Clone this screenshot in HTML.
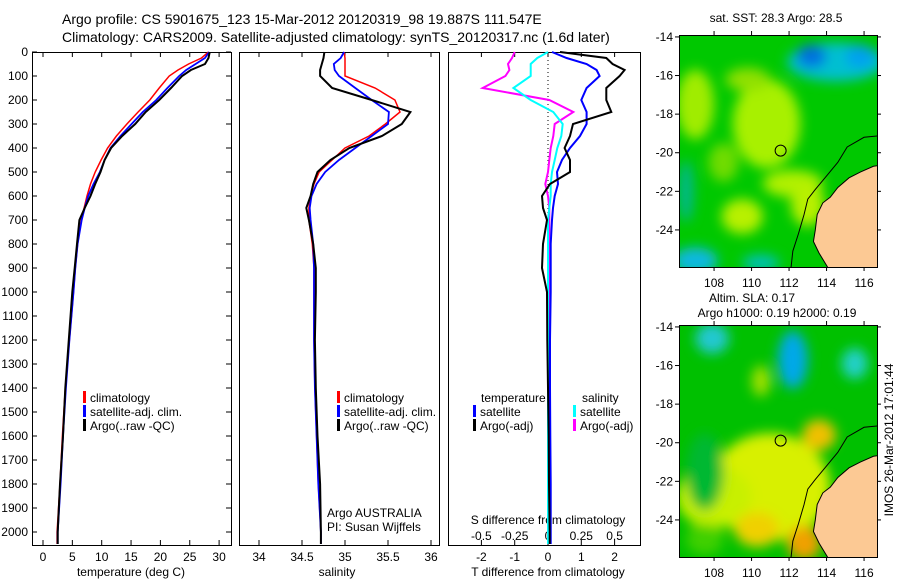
<!DOCTYPE html>
<html><head><meta charset="utf-8"><style>
html,body{margin:0;padding:0;background:#fff;}
svg{display:block;font-family:"Liberation Sans",sans-serif;}
</style></head><body>
<svg id="c" width="900" height="580" viewBox="0 0 900 580" xmlns="http://www.w3.org/2000/svg">
<defs>
<filter id="bl" x="-20%" y="-20%" width="140%" height="140%"><feGaussianBlur stdDeviation="6"/></filter>
<clipPath id="m1c"><rect x="679" y="35" width="198" height="232"/></clipPath>
<clipPath id="m2c"><rect x="679" y="325" width="198" height="232"/></clipPath>
</defs>
<text x="62" y="24" font-size="14">Argo profile: CS 5901675_123 15-Mar-2012 20120319_98 19.887S 111.547E</text>
<text x="62" y="42" font-size="14">Climatology: CARS2009. Satellite-adjusted climatology: synTS_20120317.nc (1.6d later)</text>
<g id="g"></g>
</svg>
<script>
// ---- data ----
const depths = [0,25,50,75,100,150,200,250,300,350,400,450,500,550,600,650,700,800,900,1000,1200,1400,1600,1800,2000,2050];
const tempClim = [28.2,27.0,24.8,23.0,21.5,19.8,18.2,16.2,14.3,12.5,11.0,9.9,8.9,8.1,7.5,7.0,6.5,5.9,5.5,5.2,4.5,3.8,3.3,2.9,2.4,2.4];
const tempSat  = [28.3,27.6,26.0,24.4,23.2,21.2,19.3,17.0,15.1,13.2,11.5,10.5,9.7,8.6,7.7,7.1,6.6,5.9,5.5,5.2,4.5,3.9,3.4,3.0,2.5,2.5];
const tempArgo = [28.4,28.2,27.6,25.2,23.7,21.8,19.8,17.5,15.7,13.5,11.6,10.5,9.8,8.9,8.1,7.1,6.2,5.8,5.4,5.0,4.4,3.8,3.4,2.9,2.5,2.5];
const salClim = [34.99,35.0,35.0,35.0,35.0,35.35,35.58,35.64,35.47,35.28,35.0,34.85,34.70,34.64,34.60,34.58,34.58,34.62,34.64,34.64,34.64,34.65,34.67,34.69,34.72,34.72];
const salSat  = [34.99,34.95,34.87,34.88,34.93,35.12,35.31,35.51,35.50,35.31,35.12,34.93,34.77,34.67,34.61,34.59,34.60,34.63,34.64,34.64,34.64,34.65,34.67,34.69,34.72,34.72];
const salArgo = [34.76,34.75,34.73,34.71,34.71,34.85,35.31,35.76,35.66,35.43,35.05,34.83,34.68,34.63,34.60,34.55,34.58,34.63,34.66,34.66,34.65,34.66,34.68,34.71,34.72,34.72];
const dTsat  = [0.12,0.56,1.16,1.46,1.55,1.16,1.0,1.16,1.16,0.96,0.66,0.42,0.27,0.30,0.20,0.15,0.12,0.08,0.08,0.08,0.06,0.06,0.07,0.08,0.08,0.08];
const dTargo = [0.36,1.75,1.94,2.3,2.15,1.75,1.75,1.9,0.75,0.66,0.5,0.66,0.66,0.06,-0.18,-0.15,-0.03,-0.15,-0.18,-0.03,-0.02,0.0,0.02,0.03,0.05,0.05];
const dSsat  = [0,-0.08,-0.13,-0.13,-0.13,-0.26,-0.13,0.04,0.11,0.10,0.07,0.05,0.03,0.02,0.02,0.01,0,0,0,0,0,0,0,0,0,0];
const dSargo = [-0.25,-0.27,-0.30,-0.29,-0.32,-0.49,0.01,0.19,0.05,0.04,0.02,0.01,0,-0.02,0,0.01,0.01,0.01,0.01,0.01,0.01,0.01,0.01,0.01,0.01,0.01];
const depthTicks = [0,100,200,300,400,500,600,700,800,900,1000,1100,1200,1300,1400,1500,1600,1700,1800,1900,2000];
const tTicks = [0,5,10,15,20,25,30];
const sTicks = [34,34.5,35,35.5,36];
const dTTicks = [-2,-1,0,1,2];
const dSTicks = [-0.5,-0.25,0,0.25,0.5];
const lonTicks = [108,110,112,114,116];
const latTicks = [-14,-16,-18,-20,-22,-24];

// ---- scales ----
const PT=52, PB=545;
const yD = d => PT + d*0.24;
const xT = t => 43 + t*5.87;
const xS = s => 259 + (s-34)*86;
const xdT = t => 548 + t*33.3;
const xdS = s => 548 + s*133.2;
const NS='http://www.w3.org/2000/svg';
const g=document.getElementById('g');
function el(tag,attrs,parent){const e=document.createElementNS(NS,tag);for(const k in attrs)e.setAttribute(k,attrs[k]);(parent||g).appendChild(e);return e;}
function txt(x,y,s,size,anchor,name){const e=el('text',{x:x,y:y,'font-size':size,'text-anchor':anchor||'start'});e.textContent=s;


return e;}
function line(vals,xf,color,w,name){const pts=vals.map((v,i)=>xf(v).toFixed(1)+','+yD(depths[i]).toFixed(1)).join(' ');
const p=el('polyline',{points:pts,fill:'none',stroke:color,'stroke-width':w,'stroke-linejoin':'miter'});


}
function frame(x0,x1,name){const r=el('rect',{x:x0+0.5,y:PT+0.5,width:x1-x0,height:PB-PT,fill:'none',stroke:'#000','stroke-width':1});


}
function legItem(x,y,color,label,name){el('rect',{x:x,y:y-11,width:3,height:12,fill:color});txt(x+7,y,label,12,'start',name);}

// Panel 1 temperature
frame(32,231,'temperature-panel');
depthTicks.forEach(d=>{const y=yD(d);el('line',{x1:32,x2:37,y1:y,y2:y,stroke:'#000'});el('line',{x1:226,x2:231,y1:y,y2:y,stroke:'#000'});
txt(28,y+4,String(d),12,'end','depth-tick-label');});
tTicks.forEach(t=>{const x=xT(t);el('line',{x1:x,x2:x,y1:PB-5,y2:PB,stroke:'#000'});el('line',{x1:x,x2:x,y1:PT,y2:PT+5,stroke:'#000'});txt(x,561,String(t),12,'middle','temperature-tick-label');});
txt(131,576,'temperature (deg C)',12,'middle','temperature-axis-title');
line(tempClim,xT,'#f00',1.5,'temperature-climatology-line');
line(tempSat,xT,'#00f',1.8,'temperature-satellite-line');
line(tempArgo,xT,'#000',2,'temperature-argo-line');
legItem(83,402,'#f00','climatology','legend-climatology');
legItem(83,416,'#00f','satellite-adj. clim.','legend-satellite');
legItem(83,430,'#000','Argo(..raw -QC)','legend-argo');

// Panel 2 salinity
frame(239,439,'salinity-panel');
sTicks.forEach(s=>{const x=xS(s);el('line',{x1:x,x2:x,y1:PB-5,y2:PB,stroke:'#000'});el('line',{x1:x,x2:x,y1:PT,y2:PT+5,stroke:'#000'});txt(x,561,String(s),12,'middle','salinity-tick-label');});
txt(337,576,'salinity',12,'middle','salinity-axis-title');
line(salClim,xS,'#f00',1.5,'salinity-climatology-line');
line(salSat,xS,'#00f',1.8,'salinity-satellite-line');
line(salArgo,xS,'#000',2,'salinity-argo-line');
legItem(337,402,'#f00','climatology','legend-climatology-2');
legItem(337,416,'#00f','satellite-adj. clim.','legend-satellite-2');
legItem(337,430,'#000','Argo(..raw -QC)','legend-argo-2');
txt(327,517,'Argo AUSTRALIA',12,'start','argo-australia-label');
txt(327,531,'PI: Susan Wijffels',12,'start','pi-label');

// Panel 3 differences
frame(448,640,'difference-panel');
el('line',{x1:548,x2:548,y1:PT,y2:PB,stroke:'#000','stroke-dasharray':'1,3'});
dTTicks.forEach(t=>{const x=xdT(t);el('line',{x1:x,x2:x,y1:PB-5,y2:PB,stroke:'#000'});el('line',{x1:x,x2:x,y1:PT,y2:PT+5,stroke:'#000'});txt(x,561,String(t),12,'middle','t-diff-tick-label');});
dSTicks.forEach(s=>{txt(xdS(s),540,String(s),12,'middle','s-diff-tick-label');});
txt(548,576,'T difference from climatology',12,'middle','t-diff-axis-title');
txt(548,524,'S difference from climatology',12,'middle','s-diff-axis-title');
line(dSargo,xdS,'#f0f',2,'salinity-diff-argo-line');
line(dSsat,xdS,'#0ff',2,'salinity-diff-satellite-line');
line(dTsat,xdT,'#00f',2,'temperature-diff-satellite-line');
line(dTargo,xdT,'#000',2,'temperature-diff-argo-line');
txt(481,402,'temperature',12,'start','legend-temperature-header');
txt(582,402,'salinity',12,'start','legend-salinity-header');
legItem(473,416,'#00f','satellite','legend-t-satellite');
legItem(473,430,'#000','Argo(-adj)','legend-t-argo');
legItem(573,416,'#0ff','satellite','legend-s-satellite');
legItem(573,430,'#f0f','Argo(-adj)','legend-s-argo');

// ---- maps ----
const mx = lon => 679 + (lon-106.13)*18.75;
function makeMap(top,clip,blobs,name){
  const my = lat => top + (-13.9-lat)*19.3;
  const grp=el('g',{'clip-path':'url(#'+clip+')'});
  
  
  el('rect',{x:679,y:top,width:198,height:232,fill:blobs.base},grp);
  const bg=el('g',{filter:'url(#bl)'},grp);
  blobs.items.forEach(b=>el('ellipse',{cx:mx(b[0]),cy:my(b[1]),rx:b[2]*18.75,ry:b[3]*19.3,fill:b[4]},bg));
  const land=[[117.2,-20.6],[116.5,-20.7],[115.8,-21.0],[115.2,-21.3],[114.6,-21.8],[114.2,-22.3],[113.8,-22.6],[113.5,-23.2],[113.4,-24.0],[113.3,-24.6],[113.6,-25.2],[114.1,-26.0],[117.2,-26.0]];
  el('polygon',{points:land.map(p=>mx(p[0])+','+my(p[1])).join(' '),fill:'#fcc994',stroke:'#000','stroke-width':1},grp);
  const iso=[[117,-19.1],[116,-19.2],[115.1,-19.7],[114.6,-20.5],[114.0,-21.2],[113.4,-21.9],[113.0,-22.4],[112.8,-23.2],[112.5,-24.2],[112.2,-25.1],[112.1,-26]];
  el('polyline',{points:iso.map(p=>mx(p[0])+','+my(p[1])).join(' '),fill:'none',stroke:'#000','stroke-width':1},grp);
  el('circle',{cx:mx(111.55),cy:my(-19.89),r:5.5,fill:'none',stroke:'#000','stroke-width':1},grp);
  el('rect',{x:679.5,y:top+0.5,width:198,height:232,fill:'none',stroke:'#000'});
  lonTicks.forEach(l=>{const x=mx(l);el('line',{x1:x,x2:x,y1:top-4,y2:top,stroke:'#000'});el('line',{x1:x,x2:x,y1:top+232,y2:top+236,stroke:'#000'});txt(x,top+252,String(l),12,'middle','longitude-tick-label');});
  latTicks.forEach(l=>{const y=my(l);el('line',{x1:675,x2:679,y1:y,y2:y,stroke:'#000'});el('line',{x1:877,x2:881,y1:y,y2:y,stroke:'#000'});txt(673,y+4,String(l),12,'end','latitude-tick-label');});
}
makeMap(35,'m1c',{base:'#00c800',items:[
 [110.8,-18.5,1.8,2.3,'#a8f000'],[107,-17.5,1.0,1.8,'#a0ec00'],[109.5,-23.3,1.1,0.9,'#b8f000'],[112.2,-21.6,1.6,0.7,'#b0f000'],[113,-22.7,0.9,1.1,'#b8f000'],[109.8,-16.2,1.2,0.6,'#90e000'],[108.5,-20.5,0.8,1.0,'#70dc00'],
 [114.5,-15.3,2.6,1,'#00c0d0'],[113.2,-15,0.8,0.6,'#0070e0'],[115.8,-15,0.8,0.6,'#00a0f0'],[107,-25.6,1.2,0.7,'#10b8e0'],[110.5,-25.7,1,0.4,'#00c0c0'],[106.5,-22,0.4,1.6,'#00b890']]},'sst-map');
makeMap(325,'m2c',{base:'#00c000',items:[
 [111,-22.3,3.2,2.8,'#d8f000'],[108,-22.8,2,1.6,'#c8f000'],[113.6,-19.6,0.9,0.8,'#f0c000'],[112.8,-25.2,0.9,0.9,'#f0a000'],[110.3,-24.5,1.2,0.9,'#f0d000'],[107.5,-21.5,1,2,'#00b830'],[107.5,-25,1,0.8,'#40d000'],
 [112.2,-15.7,0.8,1.5,'#00a8e8'],[107.9,-14.6,0.9,0.8,'#20c8d0'],[115.5,-15.9,0.7,0.8,'#20d0c8'],[110.5,-16.8,0.5,0.8,'#a0e000']]},'sla-map');
txt(776,22,'sat. SST: 28.3 Argo: 28.5',12,'middle','sst-map-title');
txt(752,302,'Altim. SLA: 0.17',12,'middle','sla-map-title');
txt(777,317,'Argo h1000: 0.19 h2000: 0.19',12,'middle','argo-height-label');
const ts=txt(0,0,'IMOS 26-Mar-2012 17:01:44',12,'middle','timestamp-label');
ts.setAttribute('transform','translate(893,440) rotate(-90)');
</script>
</body></html>
